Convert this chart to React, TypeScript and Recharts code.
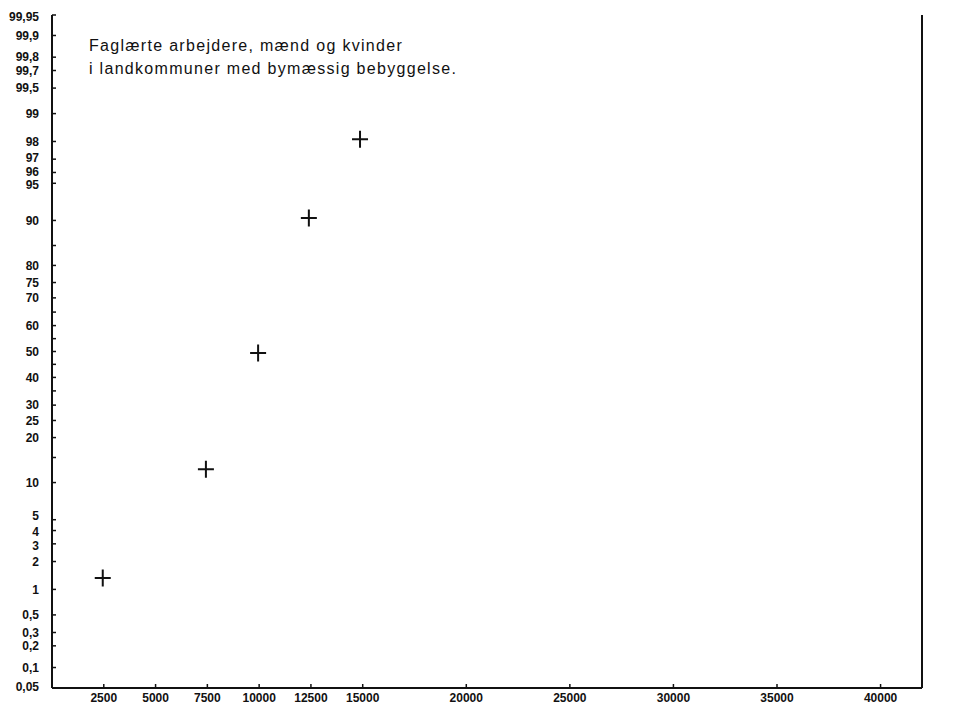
import React from 'react';
import { ScatterChart, Scatter, XAxis, YAxis } from 'recharts';

// income (kr) and cumulative share (%)
const INCOME = [2450, 7430, 9950, 12400, 14870];
const CUM_PCT = [1.34, 12.5, 49.4, 90.4, 98.1];

const X_TICKS = [2500, 5000, 7500, 10000, 12500, 15000, 20000, 25000, 30000, 35000, 40000];
const Y_TICK_PCT = [
  0.05, 0.1, 0.2, 0.3, 0.5, 1, 2, 3, 4, 5, 10, 15, 20, 25, 30, 35, 40, 45, 50,
  55, 60, 65, 70, 75, 80, 85, 90, 95, 96, 97, 98, 99, 99.5, 99.7, 99.8, 99.9, 99.95,
];
const Y_UNLABELLED = [15, 35, 45, 55, 65, 85];
const TITLE_LINES = ['Faglærte arbejdere, mænd og kvinder', 'i landkommuner med bymæssig bebyggelse.'];

const FONT = '"Liberation Sans", Arial, Helvetica, sans-serif';
const INK = '#111';

// inverse normal cdf (Acklam) -> probability paper scale
function probit(p: number): number {
  const a = [-39.69683028665376, 220.9460984245205, -275.9285104469687, 138.357751867269, -30.66479806614716, 2.506628277459239];
  const b = [-54.47609879822406, 161.5858368580409, -155.6989798598866, 66.80131188771972, -13.28068155288572];
  const c = [-0.007784894002430293, -0.3223964580411365, -2.400758277161838, -2.549671348850319, 4.374664141464968, 2.938163982698783];
  const d = [0.007784695709041462, 0.3224671290700398, 2.445134137142996, 3.754408661907416];
  const pl = 0.02425;
  if (p < pl) {
    const q = Math.sqrt(-2 * Math.log(p));
    return (((((c[0] * q + c[1]) * q + c[2]) * q + c[3]) * q + c[4]) * q + c[5]) / ((((d[0] * q + d[1]) * q + d[2]) * q + d[3]) * q + 1);
  }
  if (p > 1 - pl) {
    const q = Math.sqrt(-2 * Math.log(1 - p));
    return -(((((c[0] * q + c[1]) * q + c[2]) * q + c[3]) * q + c[4]) * q + c[5]) / ((((d[0] * q + d[1]) * q + d[2]) * q + d[3]) * q + 1);
  }
  const q = p - 0.5;
  const r = q * q;
  return (((((a[0] * r + a[1]) * r + a[2]) * r + a[3]) * r + a[4]) * r + a[5]) * q / (((((b[0] * r + b[1]) * r + b[2]) * r + b[3]) * r + b[4]) * r + 1);
}

const Z_TICKS = Y_TICK_PCT.map((p) => probit(p / 100));
const Z_DOMAIN = [probit(0.0005), probit(0.9995)];

const data = INCOME.map((x, i) => ({ x, z: probit(CUM_PCT[i] / 100) }));

const pctLabel = (value: number) => {
  const p = Y_TICK_PCT.find((t) => Math.abs(probit(t / 100) - value) < 1e-9);
  if (p === undefined || Y_UNLABELLED.includes(p)) return '';
  return String(p).replace('.', ',');
};

// small nudges where the printed labels were spread apart
const NUDGE: Record<string, number> = {
  '99,95': 2, '97': -1, '96': -1, '95': 2, '5': -4, '4': 1, '3': 2, '0,05': -1,
};

const LeftTick = ({ x, y, payload }: any) => {
  const label = pctLabel(payload.value);
  return (
    <g>
      <line x1={x} x2={x + 4} y1={y} y2={y} stroke={INK} strokeWidth={1.5} />
      {label && (
        <text x={39} y={y + (NUDGE[label] || 0)} dy="0.35em" textAnchor="end" fontSize={12} fontWeight="bold" fontFamily={FONT} fill={INK}>
          {label}
        </text>
      )}
    </g>
  );
};

const RightTick = ({ x, y, payload }: any) => {
  const label = pctLabel(payload.value);
  return (
    <g>
      <line x1={x - 5} x2={x} y1={y} y2={y} stroke={INK} strokeWidth={1.5} />
      {label && (
        <text x={946} y={y + (NUDGE[label] || 0)} dy="0.35em" textAnchor="middle" fontSize={12} fontWeight="bold" fontFamily={FONT} fill={INK}>
          {label}
        </text>
      )}
    </g>
  );
};

const BottomTick = ({ x, y, payload }: any) => (
  <g>
    <line x1={x} x2={x} y1={y} y2={y - 4} stroke={INK} strokeWidth={1.5} />
    <text x={x} y={y + 14} textAnchor="middle" fontSize={12} fontWeight="bold" fontFamily={FONT} fill={INK}>
      {payload.value}
    </text>
  </g>
);

const Cross = ({ cx, cy }: any) => (
  <path d={`M${cx - 8},${cy}H${cx + 8}M${cx},${cy - 8.5}V${cy + 8.5}`} stroke={INK} strokeWidth={2} fill="none" />
);

const axisLine = { stroke: INK, strokeWidth: 2 };

export default function App() {
  return (
    <div style={{ position: 'fixed', left: 0, top: 0, width: 964, height: 706, background: '#fff' }}>
      <ScatterChart width={964} height={706} margin={{ top: 15, right: 0, bottom: 0, left: 0 }}>
        <XAxis
          dataKey="x"
          type="number"
          domain={[0, 42000]}
          ticks={X_TICKS}
          interval={0}
          height={18}
          tickSize={0}
          tickMargin={0}
          tickLine={false}
          axisLine={axisLine}
          tick={<BottomTick />}
        />
        <XAxis xAxisId="top" orientation="top" type="number" domain={[0, 42000]} height={0} tick={false} tickLine={false} axisLine={axisLine} />
        <YAxis
          yAxisId="left"
          dataKey="z"
          type="number"
          domain={Z_DOMAIN}
          ticks={Z_TICKS}
          interval={0}
          width={52}
          tickSize={0}
          tickMargin={0}
          tickLine={false}
          axisLine={axisLine}
          tick={<LeftTick />}
        />
        <YAxis
          yAxisId="right"
          orientation="right"
          type="number"
          domain={Z_DOMAIN}
          ticks={Z_TICKS}
          interval={0}
          width={42}
          tickSize={0}
          tickMargin={0}
          tickLine={false}
          axisLine={axisLine}
          tick={<RightTick />}
        />
        <Scatter data={data} yAxisId="left" shape={<Cross />} isAnimationActive={false} />
      </ScatterChart>
      <div
        style={{
          position: 'absolute',
          left: 89,
          top: 34,
          fontFamily: FONT,
          fontSize: 16,
          letterSpacing: 1.3,
          lineHeight: '23px',
          color: INK,
          whiteSpace: 'pre',
        }}
      >
        {TITLE_LINES.map((t) => (
          <div key={t}>{t}</div>
        ))}
      </div>
    </div>
  );
}
